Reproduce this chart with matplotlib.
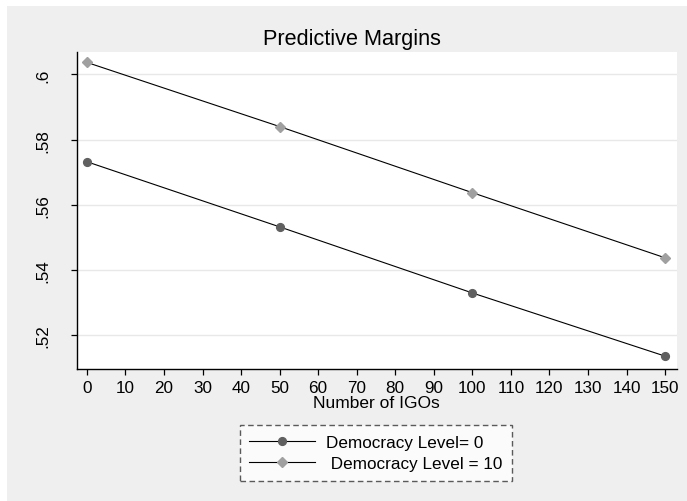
import matplotlib.pyplot as plt
from matplotlib.patches import Rectangle

plt.rcParams['font.family'] = ['Liberation Sans', 'DejaVu Sans']

# data
igos = [0, 50, 100, 150]
dem0 = [0.5732, 0.5532, 0.5329, 0.5135]
dem10 = [0.6037, 0.5840, 0.5637, 0.5437]
xticks = list(range(0, 151, 10))
yticks = [0.52, 0.54, 0.56, 0.58, 0.60]
ylabels = ['.52', '.54', '.56', '.58', '.6']

W, H = 687, 502
fig = plt.figure(figsize=(W / 100, H / 100), dpi=100)
fig.patch.set_facecolor('white')

# stata-ish gray background with thin white strip at top/left
fig.add_artist(Rectangle((7 / W, 0), 1 - 7 / W, 1 - 7 / H, transform=fig.transFigure,
                         facecolor='#efefef', edgecolor='none', zorder=-10))

ax = fig.add_axes([76.5 / W, 1 - 369.5 / H, (677 - 76.5) / W, (369.5 - 53) / H])
ax.set_facecolor('white')

ax.plot(igos, dem0, color='black', linewidth=0.8, marker='o', markersize=5.6,
        markerfacecolor='#606060', markeredgecolor='#606060', label='Democracy Level= 0', zorder=3)
ax.plot(igos, dem10, color='black', linewidth=0.8, marker='D', markersize=5.3,
        markerfacecolor='#a0a0a0', markeredgecolor='#a0a0a0', label=' Democracy Level = 10', zorder=3)

ax.set_xlim(-2.7, 153.1)
ax.set_ylim(0.5097, 0.6069)
ax.set_xticks(xticks)
ax.set_xticklabels([str(t) for t in xticks], fontsize=12.3)
ax.set_yticks(yticks)
ax.set_yticklabels(ylabels, fontsize=12.3, rotation=90, va='center')
ax.tick_params(axis='both', direction='out', length=4.5, width=0.9, color='black')
ax.tick_params(axis='x', pad=4)
ax.tick_params(axis='y', pad=14)
ax.grid(axis='y', color='#e8e8e8', linewidth=1.0)
ax.set_axisbelow(True)

for side in ['top', 'right']:
    ax.spines[side].set_visible(False)
for side in ['left', 'bottom']:
    ax.spines[side].set_linewidth(1.0)
    ax.spines[side].set_color('black')

ax.set_xlabel('Number of IGOs', fontsize=12.5, labelpad=0)
# title is centred on the whole graph region, not on the plot area
fig.text(352 / W, 1 - 40 / H, 'Predictive Margins', fontsize=15.6, ha='center', va='center')

leg = fig.legend(loc='center', bbox_to_anchor=(376 / W, 1 - 454 / H), fontsize=12.3,
                 frameon=True, fancybox=False, handlelength=3.86, handletextpad=0.64,
                 borderpad=0.55, labelspacing=0.4, borderaxespad=0)
fr = leg.get_frame()
fr.set_edgecolor('#333333')
fr.set_linestyle((0, (4, 2.5)))
fr.set_linewidth(1.0)
fr.set_facecolor('white')

fig.savefig('out.png', dpi=100)
